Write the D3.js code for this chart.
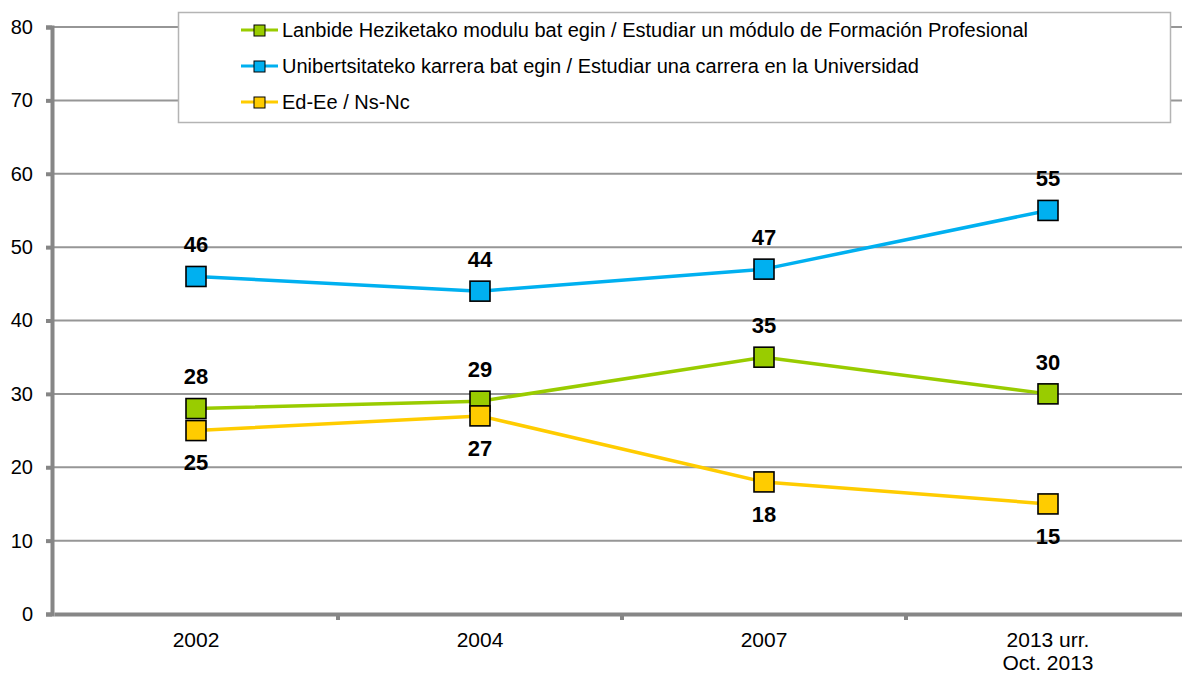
<!DOCTYPE html>
<html lang="en">
<head>
<meta charset="utf-8">
<script src="https://d3js.org/d3.v7.min.js"></script>
<style type="text/css">
	body { margin:0; background:#fff; }
	text { font-family: Arial, "Liberation Sans", sans-serif; }
</style>
</head>
<body>
<script type="text/javascript">
	// categories and series
	var years = ["2002", "2004", "2007", "2013 urr.|Oct. 2013"];
	var fpValues = [28, 29, 35, 30];     // Lanbide Heziketako modulu
	var uniValues = [46, 44, 47, 55];    // Unibertsitateko karrera
	var nsValues = [25, 27, 18, 15];     // Ed-Ee / Ns-Nc
	var yTicks = [0, 10, 20, 30, 40, 50, 60, 70, 80];
	var seriesNames = [
		"Lanbide Heziketako modulu bat egin / Estudiar un módulo de Formación Profesional",
		"Unibertsitateko karrera bat egin / Estudiar una carrera en la Universidad",
		"Ed-Ee / Ns-Nc"
	];

	var series = [
		{name: seriesNames[0], values: fpValues, color: "#99cc00", labelPos: "above"},
		{name: seriesNames[1], values: uniValues, color: "#00b0f0", labelPos: "above"},
		{name: seriesNames[2], values: nsValues, color: "#ffcc00", labelPos: "below"}
	];

	var width = 1182, height = 675;
	var svg = d3.select("body").append("svg")
		.attr("width", width)
		.attr("height", height);

	var x = d3.scaleBand().domain(years).range([54, 1190]);
	var y = d3.scaleLinear().domain([0, 80]).range([614, 27]);

	// gridlines
	svg.append("g").selectAll("line")
		.data(yTicks.filter(function(d){ return d > 0; }))
		.enter().append("line")
		.attr("x1", 54).attr("x2", width)
		.attr("y1", function(d){ return y(d); })
		.attr("y2", function(d){ return y(d); })
		.attr("stroke", "#969696")
		.attr("stroke-width", 2);

	// y axis
	var yAxis = svg.append("g")
		.attr("transform", "translate(52,0)")
		.call(d3.axisLeft(y).tickValues(yTicks).tickSize(6).tickPadding(13));
	yAxis.select(".domain").attr("stroke", "#868686").attr("stroke-width", 4);
	yAxis.selectAll(".tick line").attr("stroke", "#868686").attr("stroke-width", 4);
	yAxis.selectAll(".tick text").attr("font-size", 20).attr("fill", "#000")
		.style("font-family", "Arial, 'Liberation Sans', sans-serif");

	// x axis
	var xAxis = svg.append("g")
		.attr("transform", "translate(0,614)")
		.call(d3.axisBottom(x).tickSize(0).tickPadding(14));
	xAxis.select(".domain").attr("stroke", "#868686").attr("stroke-width", 4);
	xAxis.selectAll(".tick text").remove();
	xAxis.selectAll(".tick").each(function(d){
		var t = d3.select(this).append("text")
			.attr("fill", "#000")
			.attr("font-size", 21)
			.attr("text-anchor", "middle")
			.style("font-family", "Arial, 'Liberation Sans', sans-serif");
		d.split("|").forEach(function(part, i){
			t.append("tspan").attr("x", 0).attr("y", 33 + i * 23).text(part);
		});
	});
	// small ticks at category boundaries
	svg.append("g").selectAll("line")
		.data(years.slice(1))
		.enter().append("line")
		.attr("x1", function(d){ return x(d); })
		.attr("x2", function(d){ return x(d); })
		.attr("y1", 614).attr("y2", 620)
		.attr("stroke", "#868686").attr("stroke-width", 4);

	var line = d3.line()
		.x(function(d, i){ return x(years[i]) + x.bandwidth() / 2; })
		.y(function(d){ return y(d); });

	var markerSize = 20;

	series.forEach(function(s){
		svg.append("path")
			.datum(s.values)
			.attr("d", line)
			.attr("fill", "none")
			.attr("stroke", s.color)
			.attr("stroke-width", 3.5);
	});

	series.forEach(function(s){
		var g = svg.append("g");
		g.selectAll("rect")
			.data(s.values)
			.enter().append("rect")
			.attr("x", function(d, i){ return x(years[i]) + x.bandwidth() / 2 - markerSize / 2; })
			.attr("y", function(d){ return y(d) - markerSize / 2; })
			.attr("width", markerSize).attr("height", markerSize)
			.attr("fill", s.color)
			.attr("stroke", "#000").attr("stroke-width", 1.6);
		g.selectAll("text")
			.data(s.values)
			.enter().append("text")
			.attr("x", function(d, i){ return x(years[i]) + x.bandwidth() / 2; })
			.attr("y", function(d){ return y(d) + (s.labelPos == "above" ? -32 : 32); })
			.attr("dy", "0.35em")
			.attr("text-anchor", "middle")
			.attr("font-size", 22)
			.attr("font-weight", "bold")
			.attr("fill", "#000")
			.text(function(d){ return d; });
	});

	// legend
	var legend = svg.append("g");
	legend.append("rect")
		.attr("x", 178.5).attr("y", 12.5)
		.attr("width", 992).attr("height", 110)
		.attr("fill", "#fff")
		.attr("stroke", "#b4b4b4").attr("stroke-width", 1.5);
	var items = legend.selectAll("g.item")
		.data(series)
		.enter().append("g")
		.attr("class", "item")
		.attr("transform", function(d, i){ return "translate(0," + (30 + i * 36) + ")"; });
	items.append("line")
		.attr("x1", 241).attr("x2", 278)
		.attr("y1", 0).attr("y2", 0)
		.attr("stroke", function(d){ return d.color; })
		.attr("stroke-width", 3);
	items.append("rect")
		.attr("x", 254).attr("y", -5)
		.attr("width", 11).attr("height", 11)
		.attr("fill", function(d){ return d.color; })
		.attr("stroke", "#000").attr("stroke-width", 1);
	items.append("text")
		.attr("x", 282).attr("y", 0)
		.attr("dy", "0.35em")
		.attr("font-size", 20)
		.attr("fill", "#000")
		.text(function(d){ return d.name; });
</script>
</body>
</html>
